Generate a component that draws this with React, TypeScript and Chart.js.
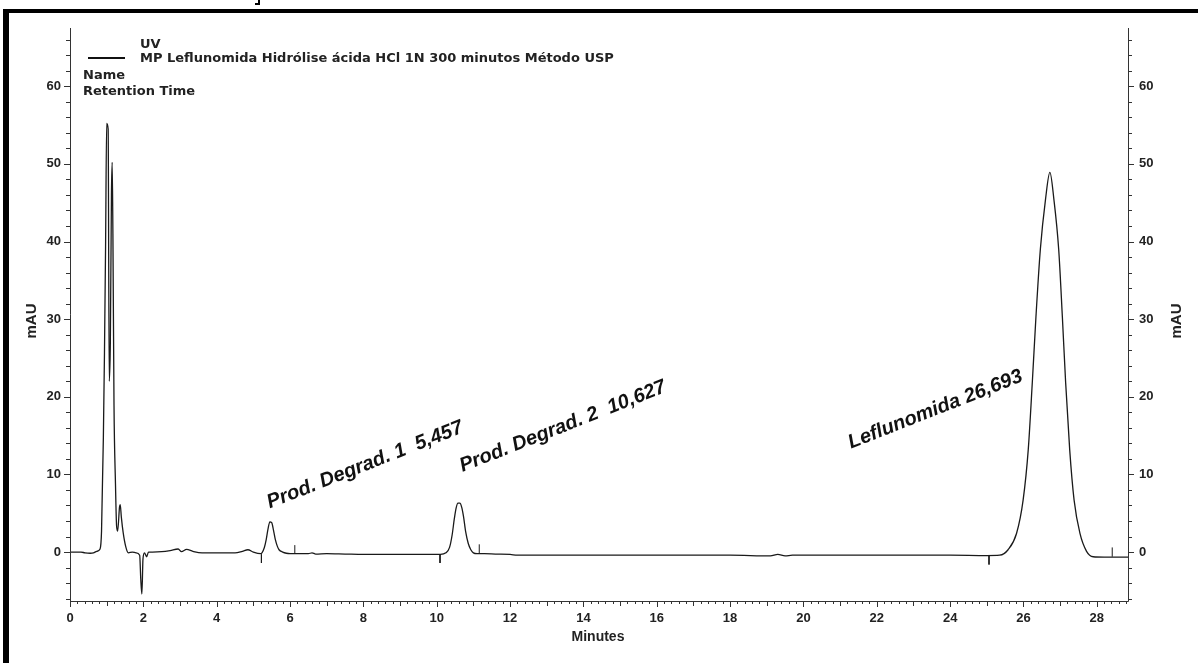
import React, { useEffect, useRef } from "react";
import { Chart, registerables } from "chart.js";

Chart.register(...registerables);

// Retention time (minutes) and detector response (mAU)
const times = [
  0, 0.3, 0.41, 0.55, 0.64, 0.73, 0.82, 0.86, 0.91, 0.94, 0.97, 1.0, 1.04, 1.07, 1.1, 1.13, 1.15, 1.17,
  1.2, 1.24, 1.27, 1.3, 1.35, 1.37, 1.4, 1.45, 1.52, 1.59, 1.7, 1.8, 1.9, 1.93, 1.96, 1.99, 2.03, 2.09,
  2.14, 2.25, 2.5, 2.73, 2.95, 3.04, 3.18, 3.35, 3.6, 4.0, 4.5, 4.7, 4.85, 5.0, 5.2, 5.3, 5.35, 5.4,
  5.45, 5.5, 5.55, 5.6, 5.65, 5.7, 5.8, 5.9, 6.0, 6.2, 6.5, 6.6, 6.7, 7.0, 7.5, 8.0, 8.5, 8.9, 9.2, 9.8,
  10.1, 10.25, 10.35, 10.42, 10.48, 10.53, 10.58, 10.63, 10.68, 10.73, 10.79, 10.86, 10.93, 11.0, 11.1,
  11.3, 11.6, 12.0, 12.2, 14, 16, 18, 19.1, 19.3, 19.5, 19.7, 20, 22, 24, 25.0, 25.35, 25.58, 25.81,
  25.99, 26.13, 26.24, 26.34, 26.46, 26.6, 26.72, 26.83, 26.96, 27.06, 27.15, 27.26, 27.38, 27.54, 27.72,
  27.9, 28.2, 28.6, 28.85,
];
const signal = [
  0, 0, -0.1, -0.15, -0.1, 0.1, 0.4, 2.7, 14.8, 25.6, 39.3, 55.2, 54.5, 22.0, 27.0, 46.0, 50.2, 41.0,
  18.9, 8.8, 3.4, 2.7, 5.8, 6.1, 4.5, 2.5, 0.7, -0.1, 0.0, -0.1, -0.4, -3.5, -5.4, -0.9, -0.1, -0.6,
  0.0, 0.0, 0.05, 0.2, 0.4, 0.05, 0.35, 0.1, -0.1, -0.1, -0.1, 0.1, 0.3, 0.0, -0.2, 0.6, 1.6, 3.0,
  3.9, 3.8, 2.8, 1.6, 0.8, 0.3, 0.0, -0.15, -0.2, -0.2, -0.2, -0.1, -0.25, -0.2, -0.25, -0.3, -0.3, -0.3, -0.3, -0.3,
  -0.3, -0.1, 0.6, 2.2, 4.3, 5.7, 6.3, 6.3, 5.8, 4.6, 2.6, 1.1, 0.3, -0.1, -0.2,
  -0.2, -0.25, -0.3, -0.4, -0.4, -0.4, -0.4, -0.5, -0.3, -0.5, -0.4, -0.4, -0.4, -0.4, -0.45, -0.4, 0.3, 2.4,
  6.7, 13.2, 21.8, 30.3, 39.0, 45.4, 48.9, 45.4, 39.0, 30.3, 21.8, 13.2, 6.7, 2.4, 0.1,
  -0.6, -0.65, -0.65, -0.65,
];

// Integration event marks (peak start / end)
const markTimes = [5.22, 6.13, 10.09, 11.16, 25.06, 28.42];
const markFrom = [-0.3, -0.2, -0.3, -0.2, -0.5, -0.6];
const markTo = [-1.4, 0.9, -1.4, 1.0, -1.6, 0.6];

// Peak labels
const peakLabels = ["Prod. Degrad. 1  5,457", "Prod. Degrad. 2  10,627", "Leflunomida 26,693"];
const peakLabelTimes = [5.45, 10.7, 21.3];
const peakLabelValues = [5.6, 10.3, 13.3];

// Axis ticks
const yTickLabels = [0, 10, 20, 30, 40, 50, 60];
const xTickLabels = [0, 2, 4, 6, 8, 10, 12, 14, 16, 18, 20, 22, 24, 26, 28];

const FONT = "'Liberation Sans', Arial, sans-serif";
const WIDE = "'DejaVu Sans', 'Liberation Sans', sans-serif";

const axesPlugin = {
  id: "chromAxes",
  beforeDraw(chart: any) {
    const { ctx, width, height } = chart;
    ctx.save();
    ctx.fillStyle = "#ffffff";
    ctx.fillRect(0, 0, width, height);
    ctx.restore();
  },
  afterDraw(chart: any) {
    const { ctx, chartArea } = chart;
    const xs = chart.scales.x;
    const ys = chart.scales.y;
    const { left, right, top, bottom } = chartArea;
    ctx.save();
    ctx.strokeStyle = "#333";
    ctx.lineWidth = 1;
    ctx.beginPath();
    ctx.moveTo(left + 0.5, top);
    ctx.lineTo(left + 0.5, bottom + 0.5);
    ctx.lineTo(right + 0.5, bottom + 0.5);
    ctx.lineTo(right + 0.5, top);
    ctx.stroke();

    // y ticks
    ctx.beginPath();
    for (let v = -6; v <= 66; v += 2) {
      const y = Math.round(ys.getPixelForValue(v)) + 0.5;
      const len = v % 10 === 0 ? 6 : 4;
      ctx.moveTo(left - len, y);
      ctx.lineTo(left, y);
      ctx.moveTo(right, y);
      ctx.lineTo(right + len, y);
    }
    // x ticks
    for (let i = 0; i <= 144; i++) {
      const t = i * 0.2;
      if (t > xs.max) break;
      const x = Math.round(xs.getPixelForValue(t)) + 0.5;
      const len = i % 10 === 0 ? 6 : i % 5 === 0 ? 5 : 3;
      ctx.moveTo(x, bottom);
      ctx.lineTo(x, bottom + len);
    }
    ctx.stroke();

    ctx.fillStyle = "#222";
    ctx.font = `bold 13px ${FONT}`;
    ctx.textBaseline = "middle";
    for (const v of yTickLabels) {
      const y = ys.getPixelForValue(v);
      ctx.textAlign = "right";
      ctx.fillText(String(v), left - 9, y);
      ctx.textAlign = "left";
      ctx.fillText(String(v), right + 11, y);
    }
    ctx.textAlign = "center";
    ctx.textBaseline = "top";
    for (const t of xTickLabels) {
      ctx.fillText(String(t), xs.getPixelForValue(t), bottom + 11);
    }
    ctx.font = `bold 14px ${FONT}`;
    ctx.fillText("Minutes", 598, bottom + 29);

    ctx.font = `bold 15px ${FONT}`;
    ctx.textBaseline = "middle";
    ctx.save();
    ctx.translate(32, 321);
    ctx.rotate(-Math.PI / 2);
    ctx.fillText("mAU", 0, 0);
    ctx.restore();
    ctx.save();
    ctx.translate(1177, 321);
    ctx.rotate(-Math.PI / 2);
    ctx.fillText("mAU", 0, 0);
    ctx.restore();

    // Legend
    ctx.strokeStyle = "#111";
    ctx.lineWidth = 2;
    ctx.beginPath();
    ctx.moveTo(88, 58);
    ctx.lineTo(125, 58);
    ctx.stroke();
    ctx.fillStyle = "#222";
    ctx.font = `bold 13px ${WIDE}`;
    ctx.textAlign = "left";
    ctx.textBaseline = "alphabetic";
    ctx.fillText("UV", 140, 48);
    ctx.fillText("MP Leflunomida Hidrólise ácida HCl 1N 300 minutos Método USP", 140, 62);
    ctx.fillText("Name", 83, 79);
    ctx.fillText("Retention Time", 83, 95);

    // Peak labels
    ctx.font = `italic bold 20px ${FONT}`;
    ctx.fillStyle = "#111";
    for (let i = 0; i < peakLabels.length; i++) {
      ctx.save();
      ctx.translate(xs.getPixelForValue(peakLabelTimes[i]), ys.getPixelForValue(peakLabelValues[i]));
      ctx.rotate(-21.5 * Math.PI / 180);
      ctx.fillText(peakLabels[i], 0, 0);
      ctx.restore();
    }

    // Frame
    ctx.fillStyle = "#000";
    ctx.fillRect(3, 9, 6, 654);
    ctx.fillRect(3, 9, 1195, 4);
    ctx.fillRect(258, 0, 2, 5);
    ctx.fillRect(255, 3, 4, 2);
    ctx.restore();
  },
};

export default function App() {
  const ref = useRef<HTMLCanvasElement | null>(null);
  useEffect(() => {
    if (!ref.current) return;
    const markData: any[] = [];
    markTimes.forEach((t, i) => {
      markData.push({ x: t, y: markFrom[i] });
      markData.push({ x: t, y: markTo[i] });
      markData.push({ x: t, y: null });
    });
    const chart = new Chart(ref.current, {
      type: "line",
      data: {
        datasets: [
          {
            data: times.map((t, i) => ({ x: t, y: signal[i] })),
            borderColor: "#1a1a1a",
            borderWidth: 1.3,
            pointRadius: 0,
            cubicInterpolationMode: "monotone",
            fill: false,
          },
          {
            data: markData,
            borderColor: "#1a1a1a",
            borderWidth: 1,
            pointRadius: 0,
            spanGaps: false,
            fill: false,
          },
        ],
      },
      options: {
        responsive: false,
        animation: false,
        events: [],
        layout: { padding: { left: 70, right: 70, top: 28, bottom: 62 } },
        plugins: { legend: { display: false }, tooltip: { enabled: false } },
        scales: {
          x: { type: "linear", min: 0, max: 28.85, display: false },
          y: { min: -6.3, max: 67.5, display: false },
        },
      },
      plugins: [axesPlugin],
    } as any);
    return () => chart.destroy();
  }, []);
  return (
    <div style={{ position: "absolute", left: 0, top: 0, width: 1198, height: 663, background: "#fff" }}>
      <canvas ref={ref} width={1198} height={663} style={{ display: "block" }} />
    </div>
  );
}
